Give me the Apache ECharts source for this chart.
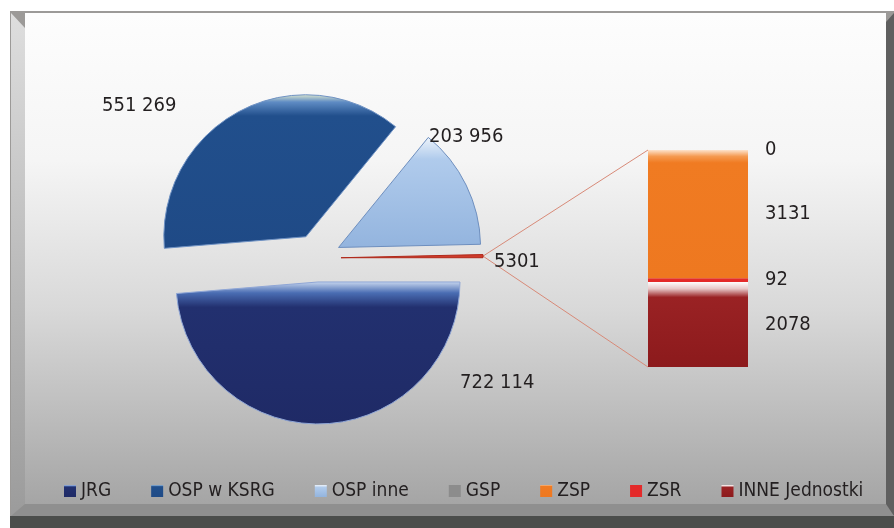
<!DOCTYPE html>
<html>
<head>
<meta charset="utf-8">
<title>Jednostki</title>
<script src="https://cdn.jsdelivr.net/npm/echarts@6/dist/echarts.min.js"></script>
<style>
  html, body { margin: 0; padding: 0; background: #fff; }
  #chart { width: 894px; height: 528px; }
</style>
</head>
<body>
<div id="chart"></div>
<script>
// kolo - od prawej, przeciwnie do wskazowek
var pieNames = ['Pozostałe', 'OSP inne', 'OSP w KSRG', 'JRG'];
var pieValues = [5301, 203956, 551269, 722114];
// slupek - od dolu
var barNames = ['INNE Jednostki', 'ZSR', 'ZSP', 'GSP'];
var barValues = [2078, 92, 3131, 0];
var legendOrder = ['JRG', 'OSP w KSRG', 'OSP inne', 'GSP', 'ZSP', 'ZSR', 'INNE Jednostki'];

var FONT = '"DejaVu Sans Condensed", "Liberation Sans Narrow", sans-serif';
var TXT = '#231f20';

var pieCenter = [317, 258];
var pieRadius = 142;
var pieOffset = 24;
var barBox = { left: 648, top: 150, width: 100, height: 217 };

// polozenie etykiet kola (lewa krawedz, srodek wysokosci)
var labelPos = {
  'JRG': [460, 383],
  'OSP w KSRG': [102, 106],
  'OSP inne': [429, 137],
  'Pozostałe': [494, 262]
};

function vgrad(stops) {
  return new echarts.graphic.LinearGradient(0, 0, 0, 1,
    stops.map(function (s) { return { offset: s[0], color: s[1] }; }));
}

var pieStyle = {
  'JRG': { color: vgrad([[0, '#c9d8ef'], [0.08, '#4a6db3'], [0.18, '#22306f'], [1, '#1f2a66']]), borderColor: '#8fa6d6', borderWidth: 1 },
  'OSP w KSRG': { color: vgrad([[0, '#dfe9cf'], [0.05, '#5f8cc4'], [0.14, '#214f8c'], [1, '#1f4a86']]), borderColor: '#6f92c4', borderWidth: 1 },
  'OSP inne': { color: vgrad([[0, '#eef4fb'], [0.2, '#b0cbec'], [1, '#93b4de']]), borderColor: '#6e8fbf', borderWidth: 1 },
  'Pozostałe': { color: '#cf3b2b', borderColor: '#b02a1c', borderWidth: 1 }
};

var barStyle = {
  'GSP': { color: '#8c8c8c' },
  'ZSP': { color: vgrad([[0, '#fde3cc'], [0.05, '#f59a50'], [0.1, '#f07b22'], [1, '#ee7820']]) },
  'ZSR': { color: '#e42a2a' },
  'INNE Jednostki': { color: vgrad([[0, '#ffffff'], [0.08, '#e8c8c8'], [0.18, '#9a2224'], [1, '#8c1a1c']]) }
};

function fmt(v) {
  var s = String(v);
  if (v < 10000) return s;
  return s.replace(/\B(?=(\d{3})+(?!\d))/g, ' ');
}

var total = pieValues.reduce(function (a, b) { return a + b; }, 0);
var barTotal = barValues.reduce(function (a, b) { return a + b; }, 0);

// koniec waskiego wycinka -> linie do slupka
var mid = (pieValues[0] / total * 360 / 2) * Math.PI / 180;
var tip = [
  pieCenter[0] + (pieOffset + pieRadius) * Math.cos(mid),
  pieCenter[1] - (pieOffset + pieRadius) * Math.sin(mid)
];

var frame = [
  { type: 'rect', z: -10, silent: true, shape: { x: 10, y: 11, width: 884, height: 517 }, style: { fill: '#9c9a98' } },
  { type: 'rect', z: -10, silent: true, shape: { x: 25, y: 13, width: 861, height: 491 },
    style: { fill: vgrad([[0, '#fdfdfd'], [0.3, '#f5f5f5'], [0.6, '#d9d9d9'], [1, '#a5a5a5']]) } },
  { type: 'polygon', z: -10, silent: true, shape: { points: [[11, 13], [25, 28], [25, 504], [11, 516]] },
    style: { fill: vgrad([[0, '#dedede'], [1, '#9b9b9b']]) } },
  { type: 'polygon', z: -10, silent: true, shape: { points: [[894, 13], [886, 22], [886, 508], [894, 516]] },
    style: { fill: '#5f5f5f' } },
  { type: 'polygon', z: -10, silent: true, shape: { points: [[11, 516], [25, 504], [886, 504], [894, 516]] },
    style: { fill: '#8f8f8f' } },
  { type: 'rect', z: -10, silent: true, shape: { x: 10, y: 516, width: 884, height: 12 }, style: { fill: '#4b4d4b' } },
  { type: 'line', z: 1, silent: true, shape: { x1: tip[0], y1: tip[1], x2: barBox.left, y2: barBox.top },
    style: { stroke: '#d88a78', lineWidth: 1 } },
  { type: 'line', z: 1, silent: true, shape: { x1: tip[0], y1: tip[1], x2: barBox.left, y2: barBox.top + barBox.height },
    style: { stroke: '#d88a78', lineWidth: 1 } }
];

// etykiety wartosci kola
var pieLabels = pieNames.map(function (n, i) {
  return {
    type: 'text', z: 10, silent: true,
    style: {
      text: fmt(pieValues[i]),
      x: labelPos[n][0], y: labelPos[n][1],
      verticalAlign: 'middle', align: 'left',
      font: '20px ' + FONT, fill: TXT
    }
  };
});

var chart = echarts.init(document.getElementById('chart'));

chart.setOption({
  animation: false,
  backgroundColor: '#fff',
  graphic: frame.concat(pieLabels),
  legend: {
    data: legendOrder,
    left: 64,
    top: 480,
    padding: 0,
    itemWidth: 12,
    itemHeight: 12,
    itemGap: 40,
    icon: 'rect',
    selectedMode: false,
    itemStyle: { borderWidth: 0 },
    textStyle: { fontSize: 19, fontFamily: FONT, color: TXT, lineHeight: 22 }
  },
  grid: { left: barBox.left, top: barBox.top, width: barBox.width, height: barBox.height, containLabel: false },
  xAxis: { type: 'category', data: ['Pozostałe'], show: false },
  yAxis: { type: 'value', min: 0, max: barTotal, show: false, splitLine: { show: false } },
  series: [{
    type: 'pie',
    center: pieCenter,
    radius: pieRadius,
    startAngle: 0,
    clockwise: false,
    selectedMode: 'multiple',
    selectedOffset: pieOffset,
    emphasis: { disabled: true },
    label: { show: false },
    labelLine: { show: false },
    data: pieNames.map(function (n, i) {
      return { name: n, value: pieValues[i], selected: true, itemStyle: pieStyle[n] };
    })
  }].concat(barNames.map(function (n, i) {
    return {
      type: 'bar',
      name: n,
      stack: 'inne',
      barWidth: '100%',
      data: [barValues[i]],
      itemStyle: barStyle[n],
      emphasis: { disabled: true },
      label: {
        show: true,
        position: 'right',
        distance: 17,
        formatter: function (p) { return fmt(p.value); },
        fontSize: 20,
        fontFamily: FONT,
        color: TXT
      }
    };
  }))
});
</script>
</body>
</html>
